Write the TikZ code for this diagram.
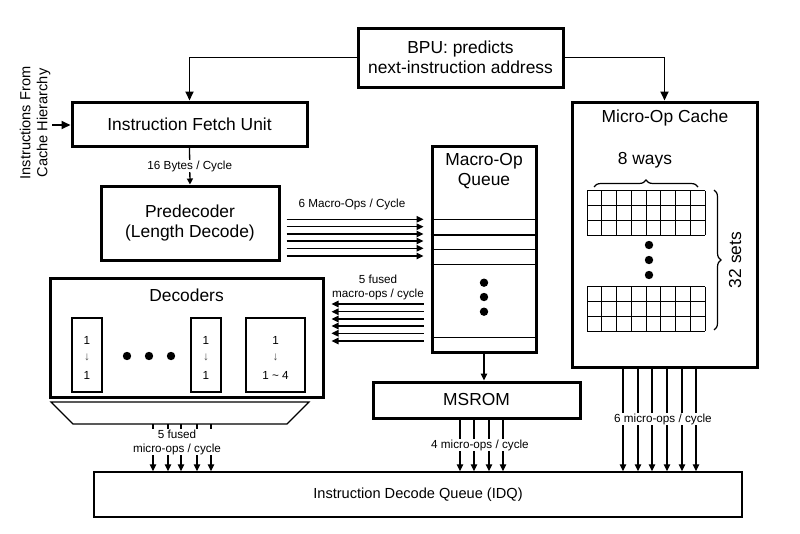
\documentclass[tikz,border=0pt]{standalone}
\usepackage{fontspec}
\setmainfont{Liberation Sans}
\usetikzlibrary{arrows.meta,calc,decorations.pathreplacing}
\tikzset{
  box/.style={draw, line width=3pt, inner sep=0pt},
  thinbox/.style={draw, line width=1.4pt, inner sep=0pt},
  big/.style={font=\fontsize{17.4}{20.5}\selectfont},
  mid/.style={font=\fontsize{14.6}{17}\selectfont},
  small/.style={font=\fontsize{11.7}{14}\selectfont},
  conn/.style={line width=1.8pt, -{Triangle[length=9pt,width=8pt]}},
  flow/.style={line width=1.3pt, -{Triangle[length=7pt,width=6.5pt]}},
  lbl/.style={small, fill=white, inner sep=0.5pt, align=center},
  dotm/.style={fill=black, draw=none}
}
\begin{document}
\begin{tikzpicture}[x=1pt,y=-1pt]
\useasboundingbox (0,0) rectangle (800,533);
% main boxes
\node[box, big, minimum width=205pt, minimum height=59pt, align=center] (bpu) at (460.5,57.5) {BPU: predicts\\next-instruction address};
\node[box, big, minimum width=235pt, minimum height=44pt] (ifu) at (189.5,124) {Instruction Fetch Unit};
\node[box, big, minimum width=178pt, minimum height=74pt, align=center] (pre) at (190,223) {Predecoder\\(Length Decode)};
\node[box, minimum width=104pt, minimum height=206pt] (moq) at (484,249) {};
\node[big, align=center] (moqt) at (484,171) {Macro-Op\\Queue};
\node[box, big, minimum width=207pt, minimum height=36pt] (msrom) at (476.5,400) {MSROM};
\node[box, minimum width=273pt, minimum height=119pt] (dec) at (186.5,337.5) {};
\node[big] (dect) at (186.5,295) {Decoders};
\node[thinbox, mid, minimum width=648pt, minimum height=45pt] (idq) at (418,494.5) {Instruction Decode Queue (IDQ)};
\node[box, minimum width=185pt, minimum height=265pt] (uoc) at (664.5,234.5) {};
\node[big] (uoct) at (665,118) {Micro-Op Cache};
\node[big] (ways) at (645,160) {8 ways};
\node[big, rotate=90] (sets) at (735,260) {32 sets};
% instructions from cache
\node[mid, rotate=90, align=center] (src) at (35,123) {Instructions From\\Cache Hierarchy};
\coordinate (srcend) at (52,125);
\draw[conn] (srcend) -- (ifu.west |- srcend);
% BPU connectors
\draw[conn] (bpu.west) -| (ifu.north);
\draw[conn] (bpu.east) -| (uoc.north);
% IFU -> predecoder
\draw[line width=1.3pt, -{Triangle[length=6pt,width=6pt]}] (ifu.south) -- (pre.north) node[midway, lbl] (l16) {16 Bytes / Cycle};
% 6 macro-ops
\node[small] (l6) at (352,204) {6 Macro-Ops / Cycle};
\foreach \y in {219.3,226.7,234,241,248.3,256}
  \draw[flow] ($(pre.east|-0,\y)+(6,0)$) -- ($(moq.west|-0,\y)+(-7,0)$);
% Macro-op queue internals
\foreach \y in {219.3,235,249.3,264.3,337.3}
  \draw[line width=1.2pt] (moq.west|-0,\y) -- (moq.east|-0,\y);
\foreach \y in {282.7,297,311.7}
  \fill (484,\y) circle (4.2pt);
% 5 fused macro-ops back
\node[lbl, fill=none] (l5m) at (378,287) {5 fused\\macro-ops / cycle};
\foreach \y in {304,311.7,319,326,333.3,341}
  \draw[flow] ($(moq.west|-0,\y)+(-7,0)$) -- ($(dec.east|-0,\y)+(7,0)$);
% MOQ -> MSROM
\draw[flow] (moq.south) -- (moq.south |- msrom.north);
% decoders internals
\node[draw, line width=1.2pt, minimum width=30pt, minimum height=74pt, inner sep=0pt] (d1) at (87,355) {};
\node[draw, line width=1.2pt, minimum width=30pt, minimum height=74pt, inner sep=0pt] (d2) at (206,355) {};
\node[draw, line width=1.2pt, minimum width=59pt, minimum height=74pt, inner sep=0pt] (d3) at (275.5,355) {};
\foreach \n/\b in {d1/1, d2/1, d3/1 \textasciitilde{} 4} {
  \node[small] at ($(\n.center)+(0,-15)$) {1};
  \node[small, text=black!70] at ($(\n.center)+(0,2)$) {↓};
  \node[small] at ($(\n.center)+(0,20)$) {\b};
}
\foreach \x in {127,149,171}
  \fill (\x,356) circle (4.2pt);
% trapezoid
\draw[line width=1.2pt] (51,402) -- (309,402) -- (287,424) -- (73,424) -- cycle;
\foreach \x in {153,168,181,197,211}
  \draw[flow] (\x,424) -- (\x,0 |- idq.north);
\node[lbl] (l5u) at (177,442) {5 fused\\micro-ops / cycle};
% MSROM -> IDQ
\foreach \x in {460,474,489,503}
  \draw[flow] (\x,0 |- msrom.south) -- (\x,0 |- idq.north);
\node[lbl] (l4) at (480,445) {4 micro-ops / cycle};
% uop cache -> IDQ
\foreach \x in {623,638,652,667,682,696}
  \draw[flow] (\x,0 |- uoc.south) -- (\x,0 |- idq.north);
\node[lbl] (l6u) at (663,419) {6 micro-ops / cycle};
% grids
\foreach \yt in {190.7,286.7} {
  \foreach \i in {0,...,8}
    \draw[line width=0.9pt] (587+\i*14.75,\yt) -- (587+\i*14.75,\yt+44.3);
  \foreach \j in {0,...,3}
    \draw[line width=0.9pt] (587,\yt+\j*14.77) -- (705,\yt+\j*14.77);
}
\foreach \y in {245,260,275}
  \fill (649,\y) circle (4.2pt);
% braces
\draw[line width=1.2pt, decorate, decoration={brace, amplitude=7pt}] (594,187) -- (698,187);
\draw[line width=1.2pt, decorate, decoration={brace, amplitude=7pt}] (714,190) -- (714,330);
\end{tikzpicture}
\end{document}
